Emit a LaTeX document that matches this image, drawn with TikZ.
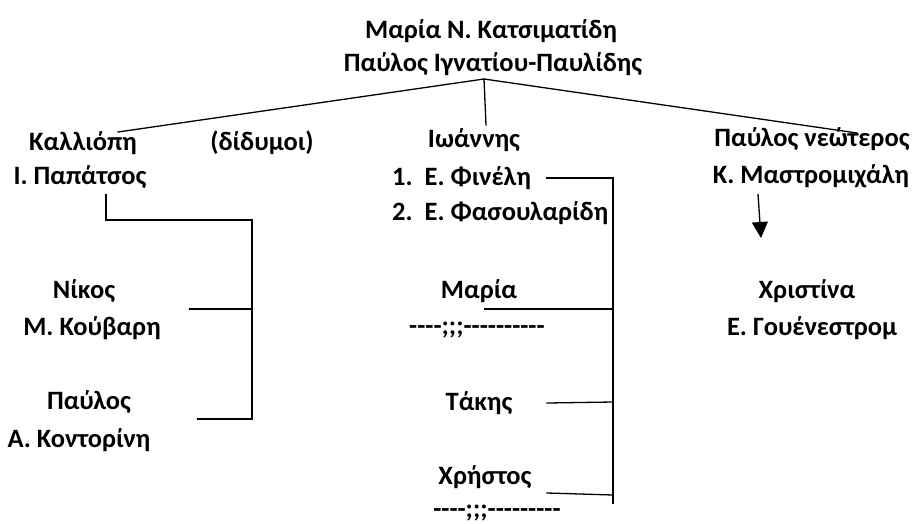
\documentclass[tikz,border=0pt]{standalone}
\usepackage{fontspec}
\setmainfont{Carlito}[Ligatures=TeXOff,BoldFont={Carlito Bold}]
\usetikzlibrary{arrows.meta}
\begin{document}
\begin{tikzpicture}[x=1pt,y=-1pt,
  lbl/.style={anchor=base,inner sep=0pt,font=\fontsize{26.5}{31}\selectfont\bfseries},
  lblw/.style={anchor=base west,inner sep=0pt,font=\fontsize{26.5}{31}\selectfont\bfseries},
  conn/.style={line width=1.3pt,line cap=rect},
  arr/.style={line width=1.3pt,-{Triangle[width=16pt,length=16pt]}}]
\useasboundingbox (0,0) rectangle (914,523);
% texts
\node[lbl] (maria) at (491,38) {Μαρία Ν. Κατσιματίδη};
\node[lbl] (pavlos) at (493,71) {Παύλος Ιγνατίου-Παυλίδης};
\node[lbl] (kall) at (83,150) {Καλλιόπη};
\node[lbl] (didymoi) at (262,150) {(δίδυμοι)};
\node[lbl] (papa) at (80,184) {Ι. Παπάτσος};
\node[lbl] (ioan) at (474,147) {Ιωάννης};
\node[lblw] (finel) at (392,185) {1.\hspace{12pt}Ε. Φινέλη};
\node[lblw] (fasoul) at (392,220) {2.\hspace{12pt}Ε. Φασουλαρίδη};
\node[lbl] (pneo) at (812,146) {Παύλος νεώτερος};
\node[lbl] (mastro) at (811,183) {Κ. Μαστρομιχάλη};
\node[lbl] (nikos) at (84,298) {Νίκος};
\node[lbl] (kouv) at (92,335) {Μ. Κούβαρη};
\node[lbl] (pavl2) at (89,409) {Παύλος};
\node[lbl] (kont) at (79,447) {Α. Κοντορίνη};
\node[lbl] (maria2) at (479,298) {Μαρία};
\node[lbl] (dash1) at (477,334) {----;;;----------};
\node[lbl] (takis) at (479,410) {Τάκης};
\node[lbl] (xristos) at (485,484) {Χρήστος};
\node[lbl] (dash2) at (497,517) {----;;;---------};
\node[lbl] (xristina) at (807,298) {Χριστίνα};
\node[lbl] (gouen) at (812,335) {Ε. Γουένεστρομ};
% coordinates
\coordinate (apex) at (484,79);
\coordinate (lend) at (118,132);
\coordinate (rend) at (857,133);
\coordinate (mend) at (486,125);
\coordinate (la) at (106,195);
\coordinate (lb) at (106,220);
\coordinate (lc) at (252,220);
\coordinate (ld) at (252,419);
\coordinate (ln) at (190,309);
\coordinate (lnr) at (252,309);
\coordinate (lp) at (198,419);
\coordinate (ma) at (547,178);
\coordinate (mb) at (613,178);
\coordinate (mc) at (613,503);
\coordinate (mm) at (485,309);
\coordinate (mmr) at (613,309);
\coordinate (mt) at (547,403);
\coordinate (mtr) at (613,402);
\coordinate (mx) at (547,493);
\coordinate (mxr) at (613,495);
\coordinate (aa) at (758,194);
\coordinate (ab) at (761,238);
% connectors
\draw[conn] (lend) -- (apex) -- (rend);
\draw[conn] (apex) -- (mend);
\draw[conn] (la) -- (lb) -- (lc) -- (ld) -- (lp);
\draw[conn] (ln) -- (lnr);
\draw[conn] (ma) -- (mb) -- (mc);
\draw[conn] (mm) -- (mmr);
\draw[conn] (mt) -- (mtr);
\draw[conn] (mx) -- (mxr);
\draw[arr] (aa) -- (ab);
\end{tikzpicture}
\end{document}
